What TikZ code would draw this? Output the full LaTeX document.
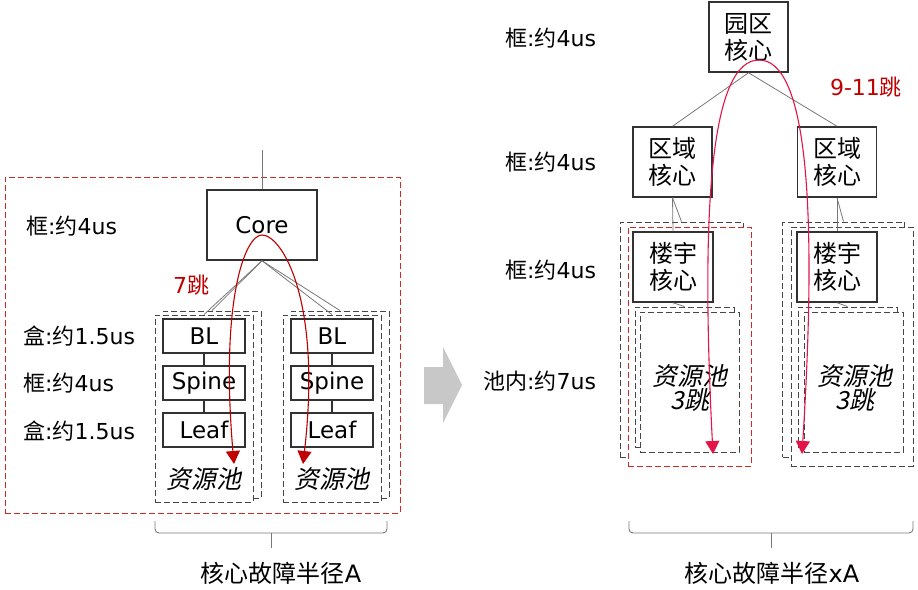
\documentclass[tikz,border=0pt]{standalone}
\usepackage{fontspec}
\setmainfont{DejaVu Sans}
\newfontfamily\cjk{Noto Sans CJK SC}
\newfontfamily\cjkit[FakeSlant=0.2]{Noto Sans CJK SC}
\usetikzlibrary{arrows.meta}
\definecolor{hopred}{RGB}{192,0,0}
\definecolor{hoppink}{RGB}{228,20,70}
\definecolor{framegray}{RGB}{50,50,50}
\definecolor{linegray}{RGB}{120,120,120}
\definecolor{dashgray}{RGB}{70,70,70}
\definecolor{poolred}{RGB}{210,40,40}
\definecolor{arrowgray}{RGB}{200,200,200}
\newcommand{\zh}[1]{{\cjk #1}}

\tikzset{
  swbox/.style={draw=framegray, line width=1.5pt, fill=white, inner sep=0pt, align=center,
    font=\fontsize{23}{27}\selectfont},
  zhbox/.style={swbox, font=\cjk\fontsize{24}{27}\selectfont},
  poolbox/.style={draw=dashgray, dash pattern=on 6pt off 3pt, line width=0.9pt, fill=white, inner sep=0pt},
  redbox/.style={poolbox, draw=poolred},
  lbl/.style={anchor=west, inner sep=0pt, font=\fontsize{22}{26}\selectfont},
  hoplbl/.style={inner sep=0pt, font=\fontsize{22}{26}\selectfont},
  pooltxt/.style={inner sep=0pt, align=center, font=\cjkit\fontsize{25}{23}\selectfont},
  link/.style={draw=linegray, line width=0.8pt},
  bracket/.style={draw=linegray, line width=0.9pt, rounded corners=4pt},
  hop/.style={line width=1.1pt, {Triangle[length=13pt,width=14pt]}-{Triangle[length=13pt,width=14pt]}},
}

\begin{document}
\begin{tikzpicture}[x=1pt, y=-1pt]
\useasboundingbox (0,0) rectangle (918,589);

% ---- left: single pool fabric ----
\node[redbox, fill=none, minimum width=395pt, minimum height=336pt] (zoneA) at (202.5,345) {};
\coordinate (uplink) at (262,150);
\node[swbox, minimum width=110pt, minimum height=70pt] (core) at (262,225) {Core};
\draw[link] (core) -- (uplink);

\node[poolbox, minimum width=98pt, minimum height=187pt] (poolAb) at (212,404.5) {};
\node[poolbox, minimum width=98pt, minimum height=187pt] (poolAf) at (204,408.5) {};
\node[poolbox, minimum width=98pt, minimum height=187pt] (poolBb) at (340,404.5) {};
\node[poolbox, minimum width=98pt, minimum height=187pt] (poolBf) at (332,408.5) {};
\draw[link] (core.south) -- (poolAf.north);
\draw[link] (core.south) -- (poolAb.north);
\draw[link] (core.south) -- (poolBf.north);
\draw[link] (core.south) -- (poolBb.north);

\foreach \p/\x in {A/204, B/332} {
  \node[swbox, minimum width=82pt, minimum height=34pt] (bl\p) at (\x,336) {BL};
  \node[swbox, minimum width=82pt, minimum height=34pt] (sp\p) at (\x,383) {Spine};
  \node[swbox, minimum width=82pt, minimum height=34pt] (lf\p) at (\x,430) {Leaf};
  \draw[framegray, line width=1.2pt] (bl\p) -- (sp\p) (sp\p) -- (lf\p);
  \node[pooltxt] (txt\p) at (\x,479) {资源池};
}

\node[lbl] (lbA1) at (26,226) {\zh{框}:\zh{约}4us};
\node[lbl] (lbA2) at (23,336) {\zh{盒}:\zh{约}1.5us};
\node[lbl] (lbA3) at (23,383) {\zh{框}:\zh{约}4us};
\node[lbl] (lbA4) at (23,431) {\zh{盒}:\zh{约}1.5us};
\node[hoplbl, text=hopred] (hopA) at (191,285) {7\zh{跳}};

\coordinate (tipA1) at (234,464);
\coordinate (tipA2) at (303,464);
\draw[hop, hopred] (tipA1) .. controls (220,300) and (245,235) .. (262,235)
  .. controls (282,235) and (322,300) .. (tipA2);

\coordinate (brA1) at (155,521);
\coordinate (brA2) at (387,521);
\draw[bracket] (brA1) -- (155,533) -- (387,533) -- (brA2);
\draw[bracket] (271,533) -- (271,548);
\node[inner sep=0pt, font=\fontsize{24}{28}\selectfont] (radA) at (281,573) {\zh{核心故障半径}A};

% ---- middle arrow ----
\fill[arrowgray] (424,367) -- (443,367) -- (443,347) -- (462,385) -- (443,423) -- (443,404) -- (424,404) -- cycle;

% ---- right: campus fabric ----
\node[zhbox, minimum width=79pt, minimum height=70pt] (park) at (748.5,37) {园区\\核心};
\node[zhbox, minimum width=79pt, minimum height=70pt] (zone1) at (672.5,162) {区域\\核心};
\node[zhbox, minimum width=79pt, minimum height=70pt] (zone2) at (837,162) {区域\\核心};
\draw[link] (park.south) -- (zone1.north);
\draw[link] (park.south) -- (zone2.north);

\node[poolbox, minimum width=123pt, minimum height=235pt] (back1) at (681.5,339.5) {};
\node[redbox, minimum width=123pt, minimum height=239pt] (frame1) at (689.5,346.5) {};
\node[poolbox, minimum width=122pt, minimum height=235pt] (back2) at (843.5,339.5) {};
\node[poolbox, minimum width=122pt, minimum height=239pt] (frame2) at (852,346.5) {};
\draw[link] (zone1.south) -- (back1.north);
\draw[link] (zone2.south) -- (back2.north);

\node[zhbox, minimum width=80pt, minimum height=70pt] (bld1) at (673,267) {楼宇\\核心};
\node[zhbox, minimum width=80pt, minimum height=70pt] (bld2) at (837,267) {楼宇\\核心};
\draw[link] (zone1.south) -- (bld1.north);
\draw[link] (zone2.south) -- (bld2.north);

\node[poolbox, minimum width=99pt, minimum height=140pt] (pool1b) at (684.5,377) {};
\node[poolbox, minimum width=99pt, minimum height=140pt] (pool2b) at (847.5,377) {};
\draw[link] (bld1.south) -- (pool1b.north);
\draw[link] (bld2.south) -- (pool2b.north);
\node[poolbox, minimum width=99pt, minimum height=140pt] (pool1f) at (689.5,382) {};
\node[poolbox, minimum width=99pt, minimum height=140pt] (pool2f) at (853.5,382) {};
\node[pooltxt] (txt1) at (690,388) {资源池\\3跳};
\node[pooltxt] (txt2) at (855,388) {资源池\\3跳};

\node[lbl] (lbB1) at (505,38) {\zh{框}:\zh{约}4us};
\node[lbl] (lbB2) at (505,162) {\zh{框}:\zh{约}4us};
\node[lbl] (lbB3) at (505,270) {\zh{框}:\zh{约}4us};
\node[lbl] (lbB4) at (483,381) {\zh{池内}:\zh{约}7us};
\node[hoplbl, text=hopred] (hopB) at (866,87) {9-11\zh{跳}};

\coordinate (tipB1) at (713,454);
\coordinate (tipB2) at (802,454);
\draw[hop, hoppink] (tipB1) .. controls (700,200) and (712,60) .. (759,60)
  .. controls (806,60) and (818,200) .. (tipB2);

\coordinate (brB1) at (629,521);
\coordinate (brB2) at (913,521);
\draw[bracket] (brB1) -- (629,533) -- (913,533) -- (brB2);
\draw[bracket] (771,533) -- (771,548);
\node[inner sep=0pt, font=\fontsize{24}{28}\selectfont] (radB) at (772,573) {\zh{核心故障半径}xA};
\end{tikzpicture}
\end{document}
